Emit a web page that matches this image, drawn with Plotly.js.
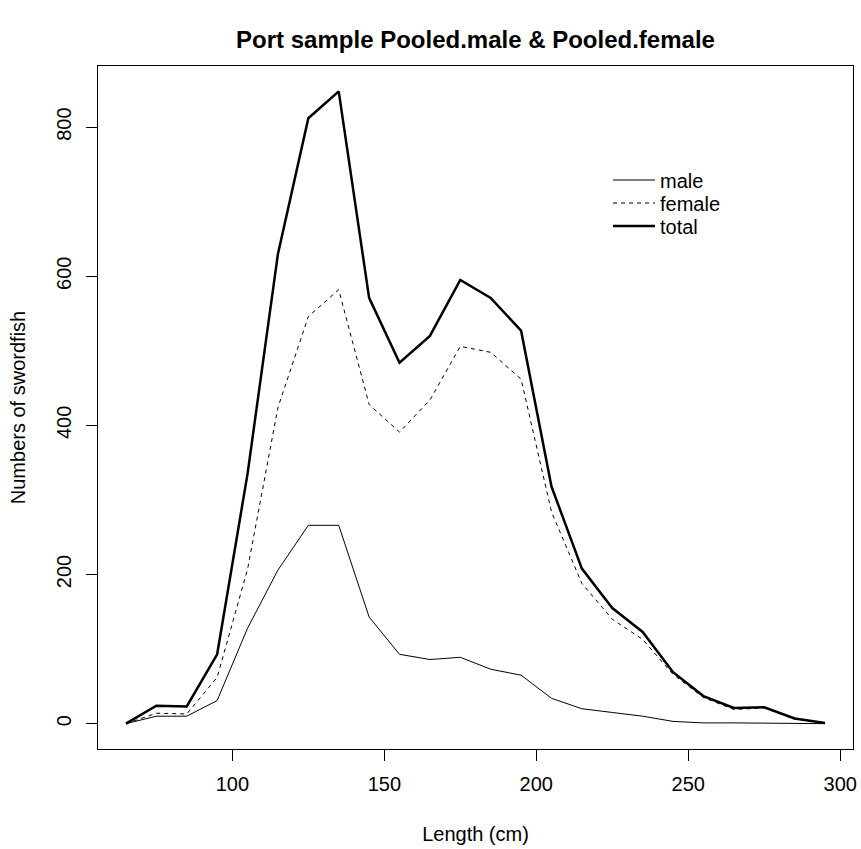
<!DOCTYPE html>
<html>
<head>
<meta charset="utf-8">
<script src="https://cdn.plot.ly/plotly-3.0.1.min.js"></script>
<style>html,body{margin:0;padding:0;background:#fff;}#chart{width:861px;height:849px;}</style>
</head>
<body>
<div id="chart"></div>
<script>
var lengthCm = [65, 75, 85, 95, 105, 115, 125, 135, 145, 155, 165, 175, 185, 195, 205, 215, 225, 235, 245, 255, 265, 275, 285, 295];
var maleCounts = [0, 10, 10, 31, 128, 206, 266, 266, 143, 93, 86, 89, 73, 65, 34, 20, 15, 10, 3, 1, 1, 1, 0, 0];
var femaleCounts = [0, 14, 13, 62, 207, 424, 546, 582, 428, 391, 434, 506, 498, 462, 284, 188, 140, 113, 66, 35, 19, 21, 6, 1];
var totalCounts = [0, 24, 23, 93, 335, 630, 812, 848, 571, 484, 520, 595, 571, 527, 318, 208, 155, 123, 69, 37, 21, 22, 7, 1];
var seriesNames = ["male", "female", "total"];
var xTickVals = [100, 150, 200, 250, 300];
var yTickVals = [0, 200, 400, 600, 800];

var FONT = "Liberation Sans, Arial, Helvetica, sans-serif";
var PLOT_TOP = 66, PLOT_BOTTOM = 749, PLOT_LEFT = 98, PLOT_RIGHT = 853;
var PH = PLOT_BOTTOM - PLOT_TOP, PW = PLOT_RIGHT - PLOT_LEFT;

var traces = [
  {x: lengthCm, y: maleCounts, name: seriesNames[0], type: "scatter", mode: "lines",
   line: {color: "#000", width: 1}, legend: "legend"},
  {x: lengthCm, y: femaleCounts, name: seriesNames[1], type: "scatter", mode: "lines",
   line: {color: "#000", width: 1, dash: "4px,4px"}, legend: "legend2"},
  {x: lengthCm, y: totalCounts, name: seriesNames[2], type: "scatter", mode: "lines",
   line: {color: "#000", width: 2.5}, legend: "legend3"}
];

function legendAt(rowY) {
  return {x: (608 - PLOT_LEFT) / PW, xanchor: "left", xref: "paper",
          y: (PLOT_BOTTOM - rowY) / PH, yanchor: "middle", yref: "paper",
          bgcolor: "rgba(0,0,0,0)", borderwidth: 0, itemwidth: 42,
          font: {family: FONT, size: 20, color: "#000"}};
}

var layout = {
  width: 861, height: 849,
  paper_bgcolor: "#fff", plot_bgcolor: "#fff",
  margin: {l: PLOT_LEFT, r: 861 - PLOT_RIGHT, t: PLOT_TOP, b: 849 - PLOT_BOTTOM, pad: 0},
  font: {family: FONT, size: 20, color: "#000"},
  title: {text: "<b>Port sample Pooled.male & Pooled.female</b>",
          font: {family: FONT, size: 24, color: "#000"},
          x: 0.5, xref: "paper", xanchor: "center",
          y: 1 - 40/849, yref: "container", yanchor: "middle"},
  showlegend: true,
  legend: legendAt(180),
  legend2: legendAt(203),
  legend3: legendAt(226),
  xaxis: {range: [55.8, 304.2], tickvals: xTickVals, ticktext: xTickVals.map(String),
          ticks: "outside", ticklen: 11, tickwidth: 1, tickcolor: "#000",
          showline: true, mirror: true, linecolor: "#000", linewidth: 1,
          showgrid: false, zeroline: false, ticklabelstandoff: 6,
          tickfont: {family: FONT, size: 20, color: "#000"},
          title: {text: "Length (cm)", font: {family: FONT, size: 20, color: "#000"}, standoff: 32}},
  yaxis: {range: [-34, 882], tickvals: yTickVals, ticktext: yTickVals.map(String),
          ticks: "outside", ticklen: 11, tickwidth: 1, tickcolor: "#000", tickangle: -90,
          showline: true, mirror: true, linecolor: "#000", linewidth: 1,
          showgrid: false, zeroline: false, ticklabelstandoff: 7,
          tickfont: {family: FONT, size: 20, color: "#000"},
          title: {text: "Numbers of swordfish", font: {family: FONT, size: 20, color: "#000"}, standoff: 22}}
};

Plotly.newPlot("chart", traces, layout, {displayModeBar: false, staticPlot: true});
</script>
</body>
</html>
